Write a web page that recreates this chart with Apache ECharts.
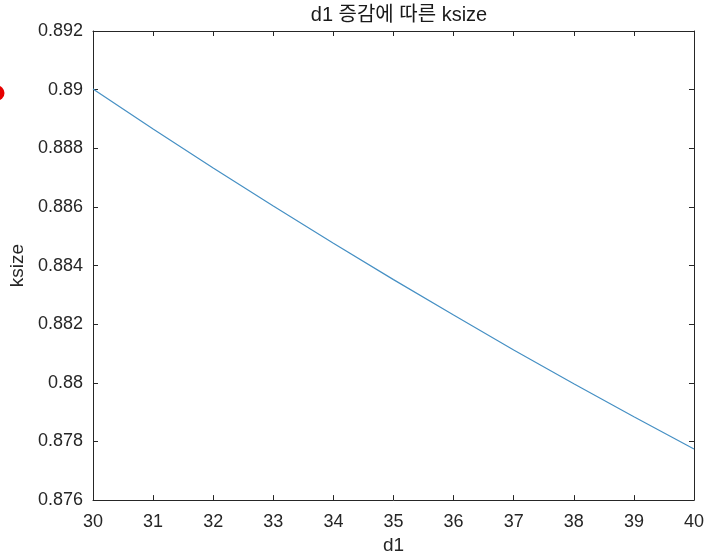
<!DOCTYPE html>
<html>
<head>
<meta charset="utf-8">
<script src="https://cdn.jsdelivr.net/npm/echarts@6/dist/echarts.min.js"></script>
<style>html,body{margin:0;padding:0;background:#fff;}#c{width:707px;height:560px;}</style>
</head>
<body>
<div id="c"></div>
<script>
// Data
var d1Values = [30, 31, 32, 33, 34, 35, 36, 37, 38, 39, 40];
var ksizeValues = [0.89002, 0.88866, 0.88733, 0.88603, 0.88476, 0.88352, 0.88231, 0.88112, 0.87997, 0.87884, 0.87774];
var xTicks = [30, 31, 32, 33, 34, 35, 36, 37, 38, 39, 40];
var yTicks = [0.876, 0.878, 0.88, 0.882, 0.884, 0.886, 0.888, 0.89, 0.892];
var titleText = 'd1 증감에 따른 ksize';
var xName = 'd1';
var yName = 'ksize';

var FONT = "'Liberation Sans', 'Noto Sans CJK KR', Arial, sans-serif";
var AX = '#262626';
var points = d1Values.map(function (d, i) { return [d, ksizeValues[i]]; });

var xMin = xTicks[0], xMax = xTicks[xTicks.length - 1];
var yMin = yTicks[0], yMax = yTicks[yTicks.length - 1];
var xInt = xTicks[1] - xTicks[0];
var yInt = 0.002;

function fmtY(v) {
  return String(parseFloat(v.toFixed(3)));
}

var chart = echarts.init(document.getElementById('c'), null, { renderer: 'canvas' });
chart.setOption({
  animation: false,
  backgroundColor: '#ffffff',
  title: {
    text: titleText,
    left: 394,
    textAlign: 'center',
    top: 0,
    textStyle: { fontFamily: FONT, fontSize: 20, fontWeight: 'normal', color: '#1a1a1a' }
  },
  grid: { left: 93, right: 12, top: 31, bottom: 56, containLabel: false },
  xAxis: [{
    type: 'value', min: xMin, max: xMax, interval: xInt, position: 'bottom',
    name: xName, nameLocation: 'middle', nameGap: 33,
    nameTextStyle: { fontFamily: FONT, fontSize: 19, color: AX },
    axisLine: { show: true, onZero: false, lineStyle: { color: AX, width: 1 } },
    axisTick: { show: true, inside: true, length: 5, lineStyle: { color: AX } },
    axisLabel: { show: true, margin: 13, fontFamily: FONT, fontSize: 18, color: AX },
    splitLine: { show: false }
  }, {
    type: 'value', min: xMin, max: xMax, interval: xInt, position: 'top',
    axisLine: { show: true, onZero: false, lineStyle: { color: AX, width: 1 } },
    axisTick: { show: true, inside: true, length: 5, lineStyle: { color: AX } },
    axisLabel: { show: false },
    splitLine: { show: false }
  }],
  yAxis: [{
    type: 'value', min: yMin, max: yMax, interval: yInt, position: 'left',
    name: yName, nameLocation: 'middle', nameGap: 62,
    nameTextStyle: { fontFamily: FONT, fontSize: 19, color: AX },
    axisLine: { show: true, onZero: false, lineStyle: { color: AX, width: 1 } },
    axisTick: { show: true, inside: true, length: 5, lineStyle: { color: AX } },
    axisLabel: { show: true, margin: 10, fontFamily: FONT, fontSize: 18, color: AX, formatter: fmtY },
    splitLine: { show: false }
  }, {
    type: 'value', min: yMin, max: yMax, interval: yInt, position: 'right',
    axisLine: { show: true, onZero: false, lineStyle: { color: AX, width: 1 } },
    axisTick: { show: true, inside: true, length: 5, lineStyle: { color: AX } },
    axisLabel: { show: false },
    splitLine: { show: false }
  }],
  series: [{
    type: 'line',
    xAxisIndex: 0,
    yAxisIndex: 0,
    data: points,
    showSymbol: false,
    smooth: false,
    lineStyle: { color: '#4690c4', width: 1.2 },
    silent: true
  }],
  graphic: [{
    type: 'circle',
    shape: { cx: -3, cy: 93, r: 7.5 },
    style: { fill: '#e60000' },
    silent: true
  }]
});
</script>
</body>
</html>
